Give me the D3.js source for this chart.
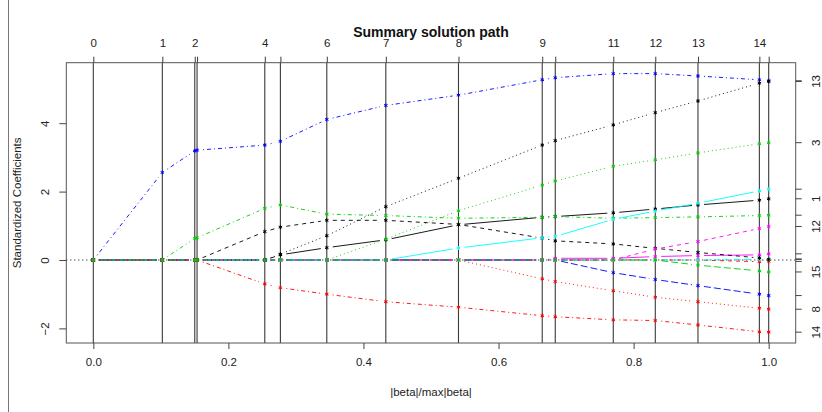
<!DOCTYPE html>
<html>
<head>
<meta charset="utf-8">
<script src="https://cdn.jsdelivr.net/npm/d3@7"></script>
<style>
  html, body { margin: 0; padding: 0; background: #fff; }
  svg { display: block; font-family: "Liberation Sans", Arial, Helvetica, sans-serif; }
</style>
</head>
<body>
<svg id="chart" width="822" height="412"></svg>
<script>
// LARS / lasso path: fraction of the L1 norm at each step
const steps = [0, 0.1022, 0.1502, 0.1536, 0.2539, 0.2770, 0.3457, 0.4331,
               0.5407, 0.6647, 0.6840, 0.7699, 0.8321, 0.8953, 0.9862, 1.0];
// step numbers printed on the top axis (crowded ones left blank)
const topLabels = ["0", "1", "2", "", "4", "", "6", "7", "8", "9", "", "11", "12", "13", "14", ""];
const xTicks = [0, 0.2, 0.4, 0.6, 0.8, 1.0];
const yTicks = [-2, 0, 2, 4];

// standardized coefficient of each variable at every step
const b1  = [0, 0, 0, 0, 0, 0.15, 0.36, 0.59, 1.03, 1.25, 1.27, 1.38, 1.49, 1.61, 1.75, 1.79];
const b2  = [0, 0, 0, 0, 0, 0, 0, 0, 0, 0, 0, 0, 0, 0, -0.05, -0.04];
const b3  = [0, 0, 0, 0, 0, 0, 0, 0.61, 1.44, 2.19, 2.31, 2.74, 2.93, 3.13, 3.40, 3.43];
const b4  = [0, 2.56, 3.19, 3.21, 3.36, 3.47, 4.11, 4.52, 4.82, 5.27, 5.33, 5.45, 5.45, 5.38, 5.27, 5.24];
const b5  = [0, 0, 0, 0, 0, 0, 0, 0, 0, 0, 0, 0, 0, 0, 0.02, 0.03];
const b6  = [0, 0, 0, 0, 0, 0, 0, 0, 0, 0, 0.05, 0.05, 0.10, 0.13, 0.15, 0.18];
const b7  = [0, 0, 0, 0, 0.83, 0.96, 1.16, 1.16, 1.04, 0.64, 0.56, 0.47, 0.34, 0.22, 0.06, 0.02];
const b8  = [0, 0, 0, 0, 0, 0, 0, 0, 0, -0.55, -0.63, -0.90, -1.09, -1.22, -1.41, -1.44];
const b9  = [0, 0, 0.63, 0.65, 1.51, 1.61, 1.34, 1.30, 1.22, 1.25, 1.27, 1.22, 1.24, 1.26, 1.30, 1.31];
const b10 = [0, 0, 0, 0, 0, 0, 0, 0, 0, 0, 0, -0.37, -0.57, -0.75, -1.00, -1.04];
const b11 = [0, 0, 0, 0, 0, 0, 0, 0, 0.35, 0.65, 0.69, 1.19, 1.43, 1.66, 2.02, 2.07];
const b12 = [0, 0, 0, 0, 0, 0, 0, 0, 0, 0, 0, 0, 0.32, 0.54, 0.92, 0.98];
const b13 = [0, 0, 0, 0, 0, 0.17, 0.71, 1.56, 2.39, 3.36, 3.49, 3.95, 4.31, 4.65, 5.17, 5.22];
const b14 = [0, 0, 0, 0, -0.70, -0.81, -1.00, -1.22, -1.38, -1.63, -1.66, -1.75, -1.77, -1.90, -2.10, -2.11];
const b15 = [0, 0, 0, 0, 0, 0, 0, 0, 0, 0, 0, 0, 0, -0.15, -0.32, -0.35];
const coefs = [b1, b2, b3, b4, b5, b6, b7, b8, b9, b10, b11, b12, b13, b14, b15];
// variables whose number is printed on the right axis
const rightLabels = [1, 3, 8, 12, 13, 14, 15];

// matplot-style palette and line types, cycled over the variables
const palette = ["#000000", "#FF0000", "#00CD00", "#0000FF", "#00FFFF", "#FF00FF"];
const dashes = [null, "4,4", "1,3", "1,3,4,3", "7,3"];

const svg = d3.select("#chart");
const plotLeft = 66.3, plotRight = 795.7, plotTop = 62.7, plotBottom = 343;

const x = d3.scaleLinear().domain([-0.04, 1.04]).range([plotLeft, plotRight]);
const y = d3.scaleLinear().domain([-2.427, 5.769]).range([plotBottom, plotTop]);

// thin rule at the left edge of the figure
svg.append("line").attr("x1", 8.5).attr("x2", 8.5).attr("y1", 0).attr("y2", 412)
  .attr("stroke", "#777").attr("stroke-width", 1);

// vertical line at every step
svg.append("g").selectAll("line").data(steps).join("line")
  .attr("x1", d => x(d)).attr("x2", d => x(d))
  .attr("y1", plotTop).attr("y2", plotBottom)
  .attr("stroke", "#3a3a3a").attr("stroke-width", 1.1);

// dotted zero line
svg.append("line").attr("x1", plotLeft).attr("x2", plotRight)
  .attr("y1", y(0)).attr("y2", y(0))
  .attr("stroke", "#000").attr("stroke-width", 1).attr("stroke-dasharray", "1,3");

// coefficient paths, with gaps round each point
const gap = 6;
coefs.forEach((vals, j) => {
  const col = palette[j % 6];
  const dash = dashes[j % 5];
  const g = svg.append("g");
  for (let i = 0; i < steps.length - 1; i++) {
    const x0 = x(steps[i]), y0 = y(vals[i]);
    const x1 = x(steps[i + 1]), y1 = y(vals[i + 1]);
    const len = Math.hypot(x1 - x0, y1 - y0);
    if (len <= 2 * gap) continue;
    const ux = (x1 - x0) / len, uy = (y1 - y0) / len;
    g.append("line")
      .attr("x1", x0 + ux * gap).attr("y1", y0 + uy * gap)
      .attr("x2", x1 - ux * gap).attr("y2", y1 - uy * gap)
      .attr("stroke", col).attr("stroke-width", 0.9)
      .attr("stroke-dasharray", dash);
  }
  // asterisk markers
  const r = 2;
  g.selectAll("path.star").data(steps).join("path")
    .attr("class", "star")
    .attr("transform", (d, i) => `translate(${x(d)},${y(vals[i])})`)
    .attr("d", () => {
      let p = "";
      for (let k = 0; k < 3; k++) {
        const a = Math.PI / 2 + k * Math.PI / 3;
        p += `M${(r * Math.cos(a)).toFixed(2)},${(r * Math.sin(a)).toFixed(2)}L${(-r * Math.cos(a)).toFixed(2)},${(-r * Math.sin(a)).toFixed(2)}`;
      }
      return p;
    })
    .attr("stroke", col).attr("stroke-width", 1).attr("fill", "none");
});

// plot frame
svg.append("rect").attr("x", plotLeft).attr("y", plotTop)
  .attr("width", plotRight - plotLeft).attr("height", plotBottom - plotTop)
  .attr("fill", "none").attr("stroke", "#555").attr("stroke-width", 1);

const tickFont = 11.5;

// bottom axis
const xAxis = d3.axisBottom(x).tickValues(xTicks).tickFormat(d3.format(".1f")).tickSize(6).tickPadding(9);
const gx = svg.append("g").attr("transform", `translate(0,${plotBottom})`).call(xAxis);
gx.select(".domain").remove();
gx.selectAll("text").attr("font-size", tickFont).attr("font-family", null).attr("fill", "#222");
gx.selectAll("line").attr("stroke", "#444");

// left axis, labels parallel to the axis
const yAxis = d3.axisLeft(y).tickValues(yTicks).tickFormat(d3.format("d")).tickSize(7);
const gy = svg.append("g").attr("transform", `translate(${plotLeft},0)`).call(yAxis);
gy.select(".domain").remove();
gy.selectAll("line").attr("stroke", "#444");
gy.selectAll("text").attr("font-size", tickFont).attr("font-family", null).attr("fill", "#222")
  .attr("x", null).attr("dy", null)
  .attr("text-anchor", "middle")
  .attr("transform", "translate(-20,0) rotate(-90)")
  .attr("dominant-baseline", "middle");

// top axis: step numbers
const topAxis = d3.axisTop(x).tickValues(steps).tickFormat((d, i) => topLabels[i]).tickSize(6).tickPadding(10);
const gt = svg.append("g").attr("transform", `translate(0,${plotTop})`).call(topAxis);
gt.select(".domain").remove();
gt.selectAll("line").attr("stroke", "#3a3a3a");
gt.selectAll("text").attr("font-size", tickFont).attr("font-family", null).attr("fill", "#222");

// right axis: final coefficient of each variable
const finals = coefs.map((v, j) => ({ id: j + 1, v: v[v.length - 1] }));
const gr = svg.append("g");
gr.selectAll("line").data(finals).join("line")
  .attr("x1", plotRight).attr("x2", plotRight + 6)
  .attr("y1", d => y(d.v)).attr("y2", d => y(d.v))
  .attr("stroke", "#444").attr("stroke-width", 1);
gr.selectAll("text").data(finals.filter(d => rightLabels.includes(d.id))).join("text")
  .attr("transform", d => `translate(${plotRight + 21},${y(d.v)}) rotate(-90)`)
  .attr("text-anchor", "middle").attr("dominant-baseline", "middle")
  .attr("font-size", tickFont).attr("fill", "#222")
  .text(d => d.id);

// titles
svg.append("text").attr("x", (plotLeft + plotRight) / 2).attr("y", 33)
  .attr("text-anchor", "middle").attr("dominant-baseline", "middle")
  .attr("font-size", 14).attr("font-weight", "bold").attr("fill", "#111")
  .text("Summary solution path");
svg.append("text").attr("x", (plotLeft + plotRight) / 2).attr("y", 393)
  .attr("text-anchor", "middle").attr("dominant-baseline", "middle")
  .attr("font-size", tickFont).attr("fill", "#222")
  .text("|beta|/max|beta|");
svg.append("text")
  .attr("transform", `translate(18,${(plotTop + plotBottom) / 2}) rotate(-90)`)
  .attr("text-anchor", "middle").attr("dominant-baseline", "middle")
  .attr("font-size", tickFont).attr("fill", "#222")
  .text("Standardized Coefficients");
</script>
</body>
</html>
